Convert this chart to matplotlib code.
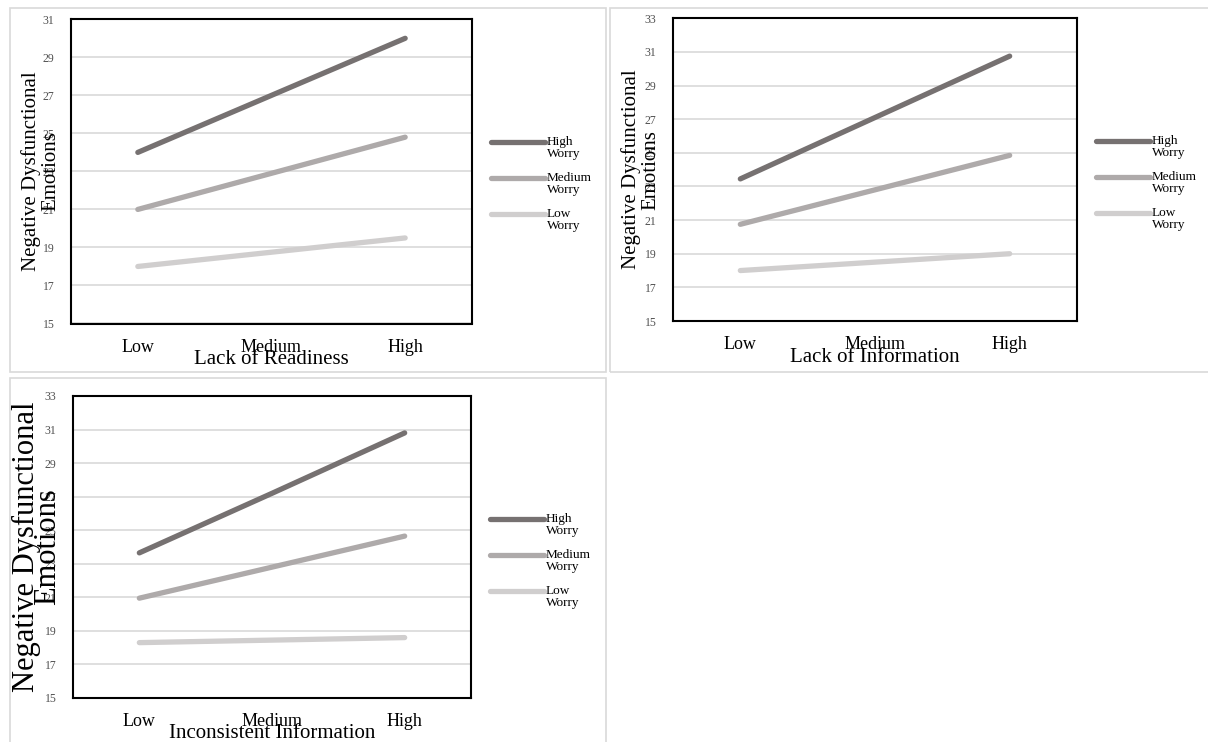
import matplotlib.pyplot as plt
from matplotlib.patches import Rectangle
from matplotlib.lines import Line2D

plt.rcParams['font.family'] = ['Liberation Serif', 'DejaVu Serif']

# data
categories = ['Low', 'Medium', 'High']
series_names = ['High\nWorry', 'Medium\nWorry', 'Low\nWorry']
colors = ['#767171', '#aeaaaa', '#d0cece']

readiness_high = [24.0, 27.0, 30.0]
readiness_med = [21.0, 22.9, 24.8]
readiness_low = [18.0, 18.75, 19.5]

information_high = [23.45, 27.1, 30.75]
information_med = [20.75, 22.8, 24.85]
information_low = [18.0, 18.5, 19.0]

inconsistent_high = [23.65, 27.2, 30.8]
inconsistent_med = [20.95, 22.8, 24.65]
inconsistent_low = [18.3, 18.45, 18.6]

panels = [
    dict(title='Lack of Readiness', data=[readiness_high, readiness_med, readiness_low],
         ymax=31, box=(71, 19.3, 472, 323.5), frame=(10, 8, 606, 372),
         ylab_size=15, ylab_space=1.0, ylab_x=31),
    dict(title='Lack of Information', data=[information_high, information_med, information_low],
         ymax=33, box=(673, 18.3, 1077, 321), frame=(610, 8, 1212, 372),
         ylab_size=15, ylab_space=1.0, ylab_x=31),
    dict(title='Inconsistent Information', data=[inconsistent_high, inconsistent_med, inconsistent_low],
         ymax=33, box=(73, 396, 471, 698), frame=(10, 378, 606, 746),
         ylab_size=22, ylab_space=0.68, ylab_x=27),
]

W, H = 1208, 742
fig = plt.figure(figsize=(W / 100, H / 100), dpi=100)


def fx(x):
    return x / W


def fy(y):
    return 1 - y / H


for p in panels:
    x0, y0, x1, y1 = p['frame']
    fig.patches.append(Rectangle((fx(x0), fy(y1)), fx(x1 - x0), (y1 - y0) / H,
                                 transform=fig.transFigure, fill=False,
                                 edgecolor='#d9d9d9', linewidth=1.2))

    bx0, by0, bx1, by1 = p['box']
    ax = fig.add_axes([fx(bx0), fy(by1), fx(bx1 - bx0), (by1 - by0) / H])
    xs = range(len(categories))
    for vals, c, name in zip(p['data'], colors, series_names):
        ax.plot(xs, vals, color=c, linewidth=3.8, solid_capstyle='round', label=name)
    ax.set_xlim(-0.5, len(categories) - 0.5)
    ax.set_ylim(15, p['ymax'])
    ax.set_yticks(range(15, p['ymax'] + 1, 2))
    ax.set_xticks(list(xs))
    ax.set_xticklabels(categories, fontsize=13)
    ax.tick_params(axis='y', length=0, pad=12, labelsize=8.5, labelcolor='#505050')
    ax.tick_params(axis='x', length=0, pad=11)
    ax.grid(axis='y', color='#d9d9d9', linewidth=1.2)
    ax.set_axisbelow(True)
    for s in ax.spines.values():
        s.set_linewidth(1.5)
        s.set_color('black')

    # axis titles
    fig.text(fx((bx0 + bx1) / 2), fy(by1 + 36), p['title'], ha='center', va='center',
             fontsize=15)
    fig.text(fx(x0 + p['ylab_x']), fy((by0 + by1) / 2),
             'Negative Dysfunctional\nEmotions', rotation=90, ha='center', va='center',
             fontsize=p['ylab_size'], linespacing=p['ylab_space'])

    # legend to the right of the plot box
    for i, (c, name) in enumerate(zip(colors, series_names)):
        ly = by0 + 123 + i * 36
        fig.lines.append(Line2D([fx(bx1 + 19), fx(bx1 + 73)], [fy(ly), fy(ly)],
                                transform=fig.transFigure, color=c, linewidth=3.8,
                                solid_capstyle='round'))
        fig.text(fx(bx1 + 75), fy(ly - 6), name, ha='left', va='top', fontsize=9.5,
                 linespacing=1.0)

fig.savefig('out.png', dpi=100)
